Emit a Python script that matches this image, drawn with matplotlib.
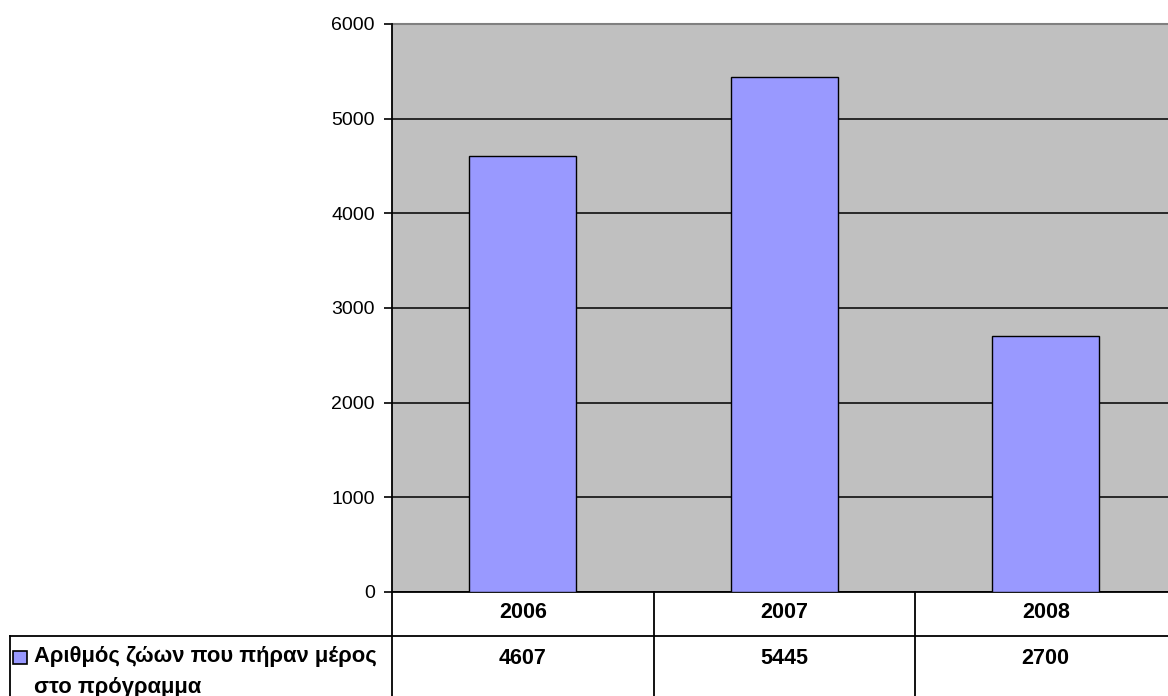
import matplotlib.pyplot as plt
from matplotlib.patches import Rectangle

# data
years = ['2006', '2007', '2008']
animals = [4607, 5445, 2700]
series_name = 'Αριθμός ζώων που πήραν μέρος\nστο πρόγραμμα'
yticks = [0, 1000, 2000, 3000, 4000, 5000, 6000]

plt.rcParams['font.family'] = ['Liberation Sans', 'DejaVu Sans']

fig = plt.figure(figsize=(11.68, 6.96), dpi=100)
# plot area runs slightly past the right edge, like the original
ax = fig.add_axes([392 / 1168, 1 - 592 / 696, 784.5 / 1168, 568 / 696])
ax.set_facecolor('#C0C0C0')

x = range(len(years))
ax.bar(x, animals, width=0.41, color='#9999FF', edgecolor='black', linewidth=1.0, zorder=3)

ax.set_xlim(-0.5, 2.5)
ax.set_ylim(0, 6000)
ax.set_yticks(yticks)
ax.set_yticklabels([str(v) for v in yticks], fontsize=14)
ax.tick_params(axis='y', length=5.5, width=1.2, pad=7, direction='out')
ax.set_xticks([])
ax.grid(axis='y', color='black', linewidth=1.1, zorder=1)

for side in ['top', 'right']:
    ax.spines[side].set_visible(False)
ax.spines['left'].set_linewidth(1.3)
ax.spines['bottom'].set_linewidth(1.3)
ax.axhline(6000, color='#808080', linewidth=1.5, zorder=2, clip_on=False)

# data table under the chart
tr = ax.get_xaxis_transform()
row1 = -44 / 568
row2 = -110 / 568
left = -0.5 - 382 / 261.5
for xv in [-0.5, 0.5, 1.5]:
    ax.plot([xv, xv], [0, row2], color='black', linewidth=1.3, transform=tr, clip_on=False)
ax.plot([left, 2.6], [row1, row1], color='black', linewidth=1.3, transform=tr, clip_on=False)
ax.plot([left, left], [row1, row2], color='black', linewidth=1.3, transform=tr, clip_on=False)

for i, (yr, v) in enumerate(zip(years, animals)):
    ax.text(i, -20 / 568, yr, transform=tr, ha='center', va='center',
            fontsize=15.5, fontweight='bold')
    ax.text(i, -66 / 568, str(v), transform=tr, ha='center', va='center',
            fontsize=15.5, fontweight='bold')

# legend key and label in the left cell
fig.patches.append(Rectangle((13 / 1168, 1 - 664 / 696), 14 / 1168, 13 / 696,
                             facecolor='#9999FF', edgecolor='black', linewidth=1.2,
                             transform=fig.transFigure))
fig.text(34 / 1168, 1 - 646 / 696, series_name, ha='left', va='top',
         fontsize=15.8, fontweight='bold', linespacing=1.65)

fig.savefig('out.png', dpi=100)
